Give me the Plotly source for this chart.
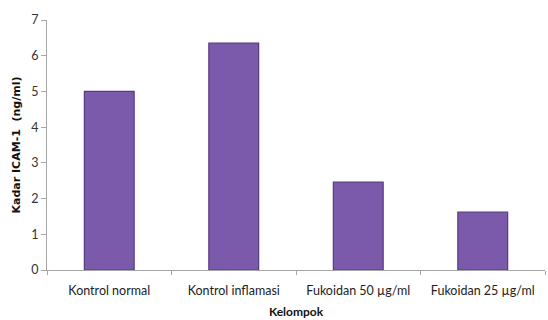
import plotly.graph_objects as go

kelompok = ["Kontrol normal", "Kontrol inflamasi", "Fukoidan 50 µg/ml", "Fukoidan 25 µg/ml"]
kadar_icam1 = [5.0, 6.35, 2.46, 1.62]
y_ticks = [0, 1, 2, 3, 4, 5, 6, 7]

font_family = "Lato, 'Open Sans', sans-serif"

fig = go.Figure()
fig.add_trace(go.Bar(
    x=kelompok,
    y=kadar_icam1,
    width=0.4,
    marker=dict(color="#7b5aab", line=dict(color="#553a7f", width=1.2)),
    hoverinfo="x+y",
))

fig.update_layout(
    width=548,
    height=320,
    margin=dict(l=47, r=3, t=20, b=50),
    paper_bgcolor="white",
    plot_bgcolor="white",
    showlegend=False,
    font=dict(family=font_family, size=12, color="#333333"),
)

fig.update_xaxes(
    showline=True,
    linecolor="#a6a6a6",
    linewidth=1,
    ticks="outside",
    tickson="boundaries",
    ticklen=4,
    tickcolor="#a6a6a6",
    ticklabelstandoff=9,
    showgrid=False,
    tickfont=dict(size=12.5, color="#222222"),
    title=dict(text="<b>Kelompok</b>", font=dict(size=12, color="#111111"), standoff=10),
)

fig.update_yaxes(
    range=[0, 7],
    tickvals=y_ticks,
    showline=True,
    linecolor="#a6a6a6",
    linewidth=1,
    ticks="outside",
    ticklen=5,
    tickcolor="#a6a6a6",
    showgrid=False,
    zeroline=False,
    tickfont=dict(size=12.5, color="#333333"),
    title=dict(text="<b>Kadar ICAM-1  (ng/ml)</b>",
               font=dict(family="'DejaVu Sans', sans-serif", size=11, color="#111111"),
               standoff=8),
)

fig.write_html("out.html")
